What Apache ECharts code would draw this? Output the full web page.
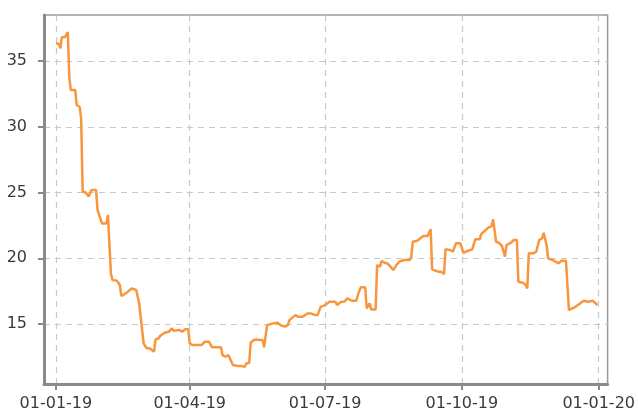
<!DOCTYPE html>
<html>
<head>
<meta charset="utf-8">
<script src="https://cdn.jsdelivr.net/npm/echarts@6/dist/echarts.min.js"></script>
<style>
  html, body { margin: 0; padding: 0; background: #fff; }
  #main { width: 638px; height: 414px; }
</style>
</head>
<body>
<div id="main"></div>
<script>
// dates and values (step changes kept as close pairs)
var dates = [
  '2019-01-01','2019-01-03','2019-01-04','2019-01-05','2019-01-07','2019-01-08','2019-01-09','2019-01-10',
  '2019-01-11','2019-01-14','2019-01-15','2019-01-17','2019-01-18','2019-01-19','2019-01-21','2019-01-23',
  '2019-01-25','2019-01-28','2019-01-29','2019-01-30','2019-02-01','2019-02-04','2019-02-05','2019-02-06',
  '2019-02-07','2019-02-08','2019-02-11','2019-02-13','2019-02-14','2019-02-17','2019-02-21','2019-02-24',
  '2019-02-26','2019-02-27','2019-03-01','2019-03-03','2019-03-05','2019-03-06','2019-03-08','2019-03-09',
  '2019-03-11','2019-03-12','2019-03-15','2019-03-18','2019-03-20','2019-03-21','2019-03-25','2019-03-27',
  '2019-03-29','2019-03-31','2019-04-01','2019-04-03','2019-04-09','2019-04-11','2019-04-14','2019-04-16',
  '2019-04-22','2019-04-23','2019-04-25','2019-04-27','2019-04-28','2019-04-30','2019-05-04','2019-05-06',
  '2019-05-08','2019-05-09','2019-05-11','2019-05-12','2019-05-14','2019-05-16','2019-05-18','2019-05-20',
  '2019-05-21','2019-05-22','2019-05-23','2019-05-27','2019-05-30','2019-06-01','2019-06-04','2019-06-06',
  '2019-06-07','2019-06-11','2019-06-13','2019-06-16','2019-06-19','2019-06-22','2019-06-24','2019-06-26',
  '2019-06-28','2019-07-01','2019-07-04','2019-07-08','2019-07-09','2019-07-12','2019-07-14','2019-07-16',
  '2019-07-19','2019-07-22','2019-07-23','2019-07-25','2019-07-28','2019-07-29','2019-07-31','2019-08-01',
  '2019-08-04','2019-08-05','2019-08-07','2019-08-08','2019-08-10','2019-08-12','2019-08-16','2019-08-18',
  '2019-08-20','2019-08-23','2019-08-27','2019-08-28','2019-08-29','2019-09-01','2019-09-02','2019-09-05',
  '2019-09-08','2019-09-10','2019-09-11','2019-09-15','2019-09-17','2019-09-19','2019-09-20','2019-09-23',
  '2019-09-25','2019-09-27','2019-09-30','2019-10-02','2019-10-05','2019-10-08','2019-10-10','2019-10-13',
  '2019-10-14','2019-10-17','2019-10-19','2019-10-21','2019-10-22','2019-10-24','2019-10-26','2019-10-28',
  '2019-10-30','2019-10-31','2019-11-03','2019-11-05','2019-11-07','2019-11-08','2019-11-11','2019-11-13',
  '2019-11-14','2019-11-15','2019-11-18','2019-11-20','2019-11-22','2019-11-24','2019-11-25','2019-11-27',
  '2019-11-28','2019-12-01','2019-12-03','2019-12-05','2019-12-07','2019-12-10','2019-12-12','2019-12-14',
  '2019-12-16','2019-12-18','2019-12-22','2019-12-25','2019-12-28','2019-12-30','2019-12-31'
];
var values = [
  36.35, 36.3, 35.97, 36.8, 36.8, 37.0, 37.2, 33.8,
  32.8, 32.8, 31.65, 31.5, 30.6, 25.06, 25.0, 24.7,
  25.2, 25.2, 23.7, 23.3, 22.65, 22.65, 23.3, 23.3,
  18.85, 18.35, 18.3, 17.97, 17.13, 17.33, 17.7, 17.6,
  16.57, 16.52, 13.53, 13.15, 13.15, 13.3, 12.9, 13.83,
  13.9, 14.09, 14.34, 14.42, 14.67, 14.49, 14.54, 14.42,
  14.6, 14.6, 13.53, 13.4, 13.4, 13.65, 13.65, 13.23,
  13.23, 12.64, 12.51, 12.64, 12.5, 11.88, 11.8, 11.8,
  11.75, 12.0, 12.06, 13.58, 13.78, 13.83, 13.78, 13.78,
  13.23, 13.23, 14.92, 15.05, 15.1, 14.92, 14.8, 14.92,
  15.3, 15.68, 15.55, 15.55, 15.8, 15.8, 15.68, 15.68,
  16.3, 16.44, 16.7, 16.7, 16.44, 16.7, 16.7, 16.95,
  16.77, 16.77, 17.2, 17.79, 17.79, 16.19, 16.57, 16.11,
  16.11, 19.49, 19.36, 19.79, 19.66, 19.61, 19.1, 19.49,
  19.74, 19.87, 19.87, 20.12, 21.26, 21.33, 21.18, 21.69,
  21.69, 22.2, 19.16, 18.98, 18.98, 18.8, 20.68, 20.63,
  20.5, 21.14, 21.14, 20.42, 20.57, 20.68, 21.44, 21.44,
  21.84, 22.15, 22.35, 22.45, 22.96, 21.26, 21.18, 20.93,
  20.12, 21.0, 21.18, 21.39, 21.39, 18.22, 18.14, 17.97,
  17.71, 20.38, 20.38, 20.5, 21.39, 21.52, 21.94, 21.0,
  19.99, 19.87, 19.74, 19.61, 19.81, 19.81, 16.06, 16.19,
  16.27, 16.44, 16.77, 16.7, 16.77, 16.57, 16.44
];
var xTicks = ['2019-01-01', '2019-04-01', '2019-07-01', '2019-10-01', '2020-01-01'];
var yTicks = [15, 20, 25, 30, 35];

var chart = echarts.init(document.getElementById('main'));

function toTime(s) { return Date.UTC(+s.slice(0, 4), +s.slice(5, 7) - 1, +s.slice(8, 10)); }
function pad(n) { return n < 10 ? '0' + n : '' + n; }
function fmtDate(v) {
  var d = new Date(v);
  return pad(d.getUTCDate()) + '-' + pad(d.getUTCMonth() + 1) + '-' + pad(d.getUTCFullYear() % 100);
}

var xTickTimes = xTicks.map(toTime);
var seriesData = dates.map(function (d, i) { return [toTime(d), values[i]]; });

var labelStyle = {
  color: '#3a3a3a',
  fontFamily: 'DejaVu Sans',
  fontSize: 16
};

chart.setOption({
  animation: false,
  backgroundColor: '#fff',
  grid: {
    left: 44, top: 15, right: 26, bottom: 30,
    show: true,
    borderColor: '#9a9a9a',
    borderWidth: 1.5,
    containLabel: false
  },
  xAxis: {
    type: 'value',
    scale: true,
    min: toTime('2018-12-24'),
    max: toTime('2020-01-07'),
    axisLine: { show: true, onZero: false, lineStyle: { color: '#8a8a8a', width: 3 } },
    axisTick: { show: true, customValues: xTickTimes, length: 6, lineStyle: { color: '#8a8a8a', width: 2 } },
    axisLabel: Object.assign({
      customValues: xTickTimes,
      margin: 12,
      formatter: function (v) { return fmtDate(v); }
    }, labelStyle),
    splitLine: { show: true, lineStyle: { color: '#c8c8c8', type: [6, 5], width: 1.2 } }
  },
  yAxis: {
    type: 'value',
    scale: true,
    min: 10.44,
    max: 38.5,
    axisLine: { show: true, onZero: false, lineStyle: { color: '#8a8a8a', width: 3 } },
    axisTick: { show: true, customValues: yTicks, length: 6, lineStyle: { color: '#8a8a8a', width: 2 } },
    axisLabel: Object.assign({ customValues: yTicks, margin: 17 }, labelStyle),
    splitLine: { show: true, lineStyle: { color: '#c8c8c8', type: [6, 5], width: 1.2 } }
  },
  series: [{
    type: 'line',
    data: seriesData,
    showSymbol: false,
    lineStyle: { color: '#f7963d', width: 2.5 },
    itemStyle: { color: '#f7963d' }
  }]
});
</script>
</body>
</html>
